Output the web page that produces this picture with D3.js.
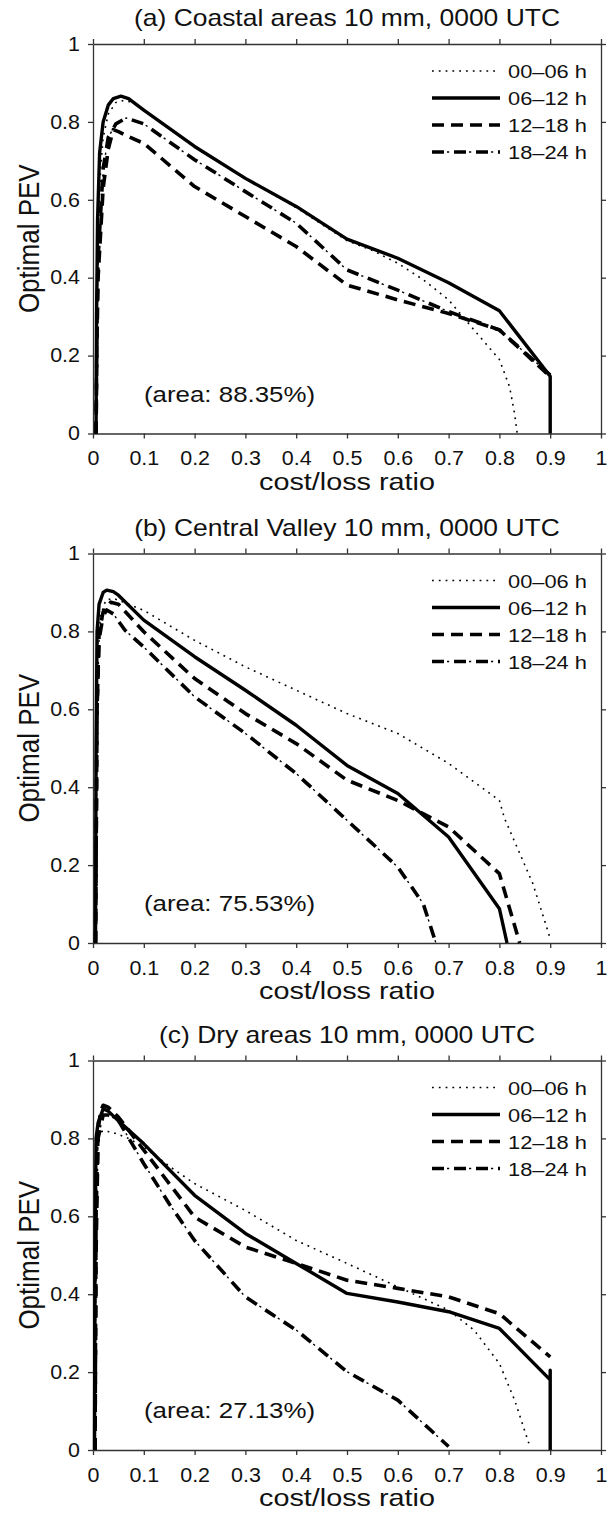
<!DOCTYPE html>
<html><head><meta charset="utf-8">
<script src="https://cdn.jsdelivr.net/npm/d3@7"></script>
<style>
body{margin:0;background:#fff}
svg{display:block;background:#fff}
text{font-family:"Liberation Sans", Arial, Helvetica, sans-serif; fill:#111}
</style>
</head><body><svg id="chart" width="610" height="1513"></svg>
<script>
// ---------- data ----------
const xTicks = [0,0.1,0.2,0.3,0.4,0.5,0.6,0.7,0.8,0.9,1];
const xTickLabels = ["0","0.1","0.2","0.3","0.4","0.5","0.6","0.7","0.8","0.9","1"];
const yTicks = [0,0.2,0.4,0.6,0.8,1];
const yTickLabels = ["0","0.2","0.4","0.6","0.8","1"];
const seriesNames = ["00\u201306 h","06\u201312 h","12\u201318 h","18\u201324 h"];
const panelTitles = ["(a) Coastal areas 10 mm, 0000 UTC","(b) Central Valley 10 mm, 0000 UTC","(c) Dry areas 10 mm, 0000 UTC"];
const areaLabels = ["(area: 88.35%)","(area: 75.53%)","(area: 27.13%)"];
const xLabel = "cost/loss ratio";
const yLabel = "Optimal PEV";

// (a) Coastal areas
const coastal_00_06 = [[0.006,0],[0.008,0.3],[0.01,0.5],[0.015,0.68],[0.02,0.76],[0.03,0.82],[0.045,0.85],[0.06,0.855],[0.08,0.85],[0.1,0.83],[0.2,0.735],[0.3,0.655],[0.4,0.58],[0.5,0.495],[0.55,0.47],[0.6,0.437],[0.65,0.395],[0.7,0.343],[0.75,0.266],[0.8,0.19],[0.82,0.12],[0.83,0.05],[0.835,0]];
const coastal_06_12 = [[0.006,0],[0.007,0.3],[0.009,0.55],[0.013,0.72],[0.02,0.8],[0.03,0.843],[0.04,0.86],[0.055,0.866],[0.07,0.86],[0.1,0.83],[0.2,0.737],[0.3,0.655],[0.4,0.583],[0.5,0.499],[0.6,0.45],[0.7,0.387],[0.8,0.315],[0.9,0.147],[0.9,0]];
const coastal_12_18 = [[0.006,0],[0.008,0.25],[0.01,0.4],[0.02,0.63],[0.03,0.73],[0.04,0.78],[0.05,0.775],[0.07,0.762],[0.1,0.745],[0.2,0.634],[0.3,0.557],[0.4,0.48],[0.5,0.381],[0.6,0.343],[0.7,0.308],[0.8,0.266],[0.9,0.146]];
const coastal_18_24 = [[0.006,0],[0.008,0.3],[0.01,0.45],[0.02,0.68],[0.03,0.76],[0.045,0.795],[0.065,0.81],[0.1,0.795],[0.2,0.703],[0.3,0.621],[0.4,0.54],[0.5,0.42],[0.6,0.368],[0.7,0.313],[0.8,0.266],[0.9,0.15]];

// (b) Central Valley
const valley_00_06 = [[0.004,0],[0.006,0.5],[0.008,0.75],[0.015,0.84],[0.025,0.88],[0.04,0.885],[0.06,0.875],[0.1,0.854],[0.2,0.777],[0.3,0.709],[0.4,0.649],[0.5,0.589],[0.6,0.538],[0.7,0.461],[0.8,0.366],[0.81,0.32],[0.866,0.152],[0.897,0.024],[0.9,0.01]];
const valley_06_12 = [[0.005,0],[0.006,0.5],[0.008,0.8],[0.012,0.87],[0.02,0.9],[0.027,0.906],[0.04,0.902],[0.05,0.893],[0.1,0.829],[0.2,0.735],[0.3,0.649],[0.4,0.559],[0.5,0.456],[0.6,0.384],[0.7,0.272],[0.8,0.088],[0.815,0]];
const valley_12_18 = [[0.005,0],[0.008,0.6],[0.012,0.8],[0.02,0.85],[0.035,0.875],[0.05,0.87],[0.1,0.799],[0.2,0.679],[0.3,0.589],[0.4,0.512],[0.5,0.418],[0.6,0.366],[0.7,0.298],[0.8,0.178],[0.84,0]];
const valley_18_24 = [[0.005,0],[0.008,0.6],[0.012,0.78],[0.02,0.84],[0.027,0.855],[0.04,0.845],[0.063,0.803],[0.1,0.76],[0.2,0.632],[0.3,0.538],[0.4,0.435],[0.5,0.315],[0.6,0.195],[0.65,0.101],[0.675,0]];

// (c) Dry areas
const dry_00_06 = [[0.004,0],[0.006,0.6],[0.01,0.81],[0.02,0.82],[0.04,0.815],[0.07,0.8],[0.1,0.778],[0.153,0.726],[0.2,0.684],[0.3,0.615],[0.4,0.538],[0.5,0.479],[0.6,0.419],[0.7,0.359],[0.75,0.308],[0.8,0.222],[0.83,0.128],[0.86,0.009]];
const dry_06_12 = [[0.003,0],[0.004,0.5],[0.006,0.8],[0.01,0.84],[0.02,0.876],[0.03,0.87],[0.05,0.845],[0.1,0.786],[0.2,0.654],[0.3,0.556],[0.4,0.479],[0.5,0.402],[0.6,0.38],[0.7,0.355],[0.8,0.312],[0.9,0.18],[0.9,0.205],[0.9,0]];
const dry_12_18 = [[0.004,0],[0.006,0.6],[0.01,0.82],[0.015,0.87],[0.02,0.885],[0.03,0.88],[0.05,0.855],[0.1,0.77],[0.15,0.684],[0.2,0.598],[0.3,0.521],[0.4,0.479],[0.5,0.436],[0.6,0.415],[0.7,0.393],[0.8,0.35],[0.9,0.239]];
const dry_18_24 = [[0.004,0],[0.006,0.5],[0.01,0.8],[0.02,0.86],[0.03,0.86],[0.05,0.846],[0.1,0.735],[0.15,0.632],[0.2,0.538],[0.3,0.393],[0.4,0.308],[0.5,0.201],[0.6,0.128],[0.7,0.009]];

const panelSeries = [
  [coastal_00_06, coastal_06_12, coastal_12_18, coastal_18_24],
  [valley_00_06, valley_06_12, valley_12_18, valley_18_24],
  [dry_00_06, dry_06_12, dry_12_18, dry_18_24]
];

// ---------- layout / style ----------
const SX = 1.15;             // horizontal stretch of the glyphs in the reference
const left = 93, right = 601, H = 389.5;
const tops = [44, 553.5, 1060.5];
const svg = d3.select("#chart");
const x = d3.scaleLinear().domain([0,1]).range([0, right-left]);
const y = d3.scaleLinear().domain([0,1]).range([H, 0]);
const line = d3.line().x(d => x(d[0])).y(d => y(d[1]));

const styles = [
  [{w:1.6, dash:"1.8,5"}],
  [{w:3.4, dash:null}],
  [{w:3.6, dash:"12,7"}],
  [{w:3.6, dash:"12,10"},{w:1.4, dash:"0,15,2.2,4.8"}]
];

function stext(g, tx, ty, str, size, anchor, sx){
  return g.append("text")
    .attr("transform", `translate(${tx},${ty}) scale(${sx||SX},1)`)
    .attr("font-size", size)
    .attr("text-anchor", anchor)
    .text(str);
}

function drawStyled(g, d, si){
  styles[si].forEach(st => {
    g.append("path").attr("d", typeof d === "string" ? d : line(d))
      .attr("fill","none").attr("stroke","#000")
      .attr("stroke-width", st.w)
      .attr("stroke-linejoin","round")
      .attr("stroke-dasharray", st.dash);
  });
}

panelSeries.forEach((series, p) => {
  const g = svg.append("g").attr("transform", `translate(${left},${tops[p]})`);
  const W = right - left;

  // axes
  const ax = (axis) => axis.tickSizeInner(5).tickSizeOuter(0);
  const gb = g.append("g").attr("transform",`translate(0,${H})`)
    .call(ax(d3.axisBottom(x).tickValues(xTicks).tickFormat((d,i)=>xTickLabels[i])).tickPadding(13));
  gb.selectAll("text").attr("font-size",19.5).attr("transform","scale(1.1,1)");
  const gt = g.append("g").call(ax(d3.axisTop(x).tickValues(xTicks).tickFormat("")));
  const gl = g.append("g")
    .call(ax(d3.axisLeft(y).tickValues(yTicks).tickFormat((d,i)=>yTickLabels[i])).tickPadding(8));
  gl.selectAll("text").attr("font-size",19.5).attr("transform","scale(1.1,1)").attr("x", -13/1.1);
  const gr = g.append("g").attr("transform",`translate(${W},0)`)
    .call(ax(d3.axisRight(y).tickValues(yTicks).tickFormat("")));
  [gb,gt,gl,gr].forEach(a => {
    a.selectAll("path,line").attr("stroke","#333").attr("stroke-width",1.3);
    a.attr("font-family", null);
  });

  // series (dotted, dash-dot, dashed, solid on top)
  [0,3,2,1].forEach(si => drawStyled(g, series[si], si));

  // legend
  seriesNames.forEach((name, i) => {
    const ly = 27 + 27*i;
    drawStyled(g, `M${432-left},${ly}L${500-left},${ly}`, i);
    stext(g, 508-left, ly + 7, name, 19, "start");
  });

  // area label
  stext(g, 144-left, H - 32, areaLabels[p], 22.5, "start");

  // title
  stext(g, W/2, -18, panelTitles[p], 23, "middle");

  // axis labels
  stext(g, W/2, H + 56, xLabel, 24, "middle", 1.2);
  g.append("text")
    .attr("transform", `translate(${39-left},${H/2}) rotate(-90) scale(1,1.17)`)
    .attr("font-size", 26).attr("text-anchor","middle").text(yLabel);
});
</script></body></html>
